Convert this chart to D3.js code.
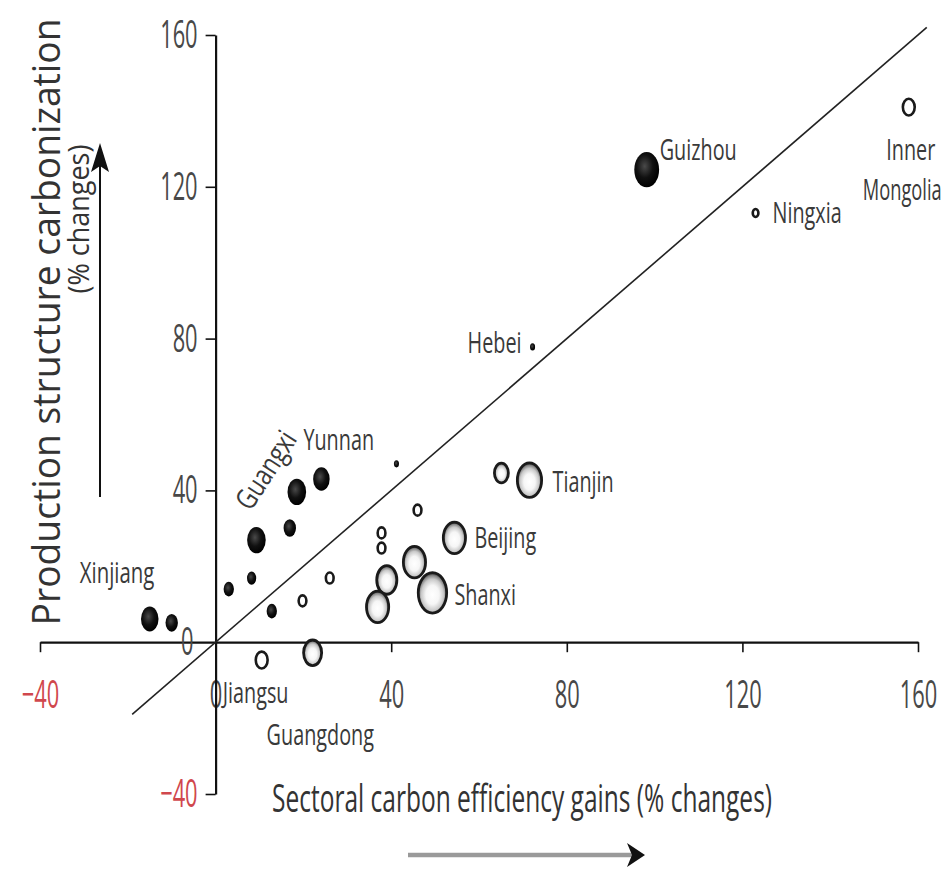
<!DOCTYPE html>
<html lang="en">
  <head>
    <meta charset="UTF-8" />
    <title>Production structure vs carbon efficiency</title>
    <script src="https://d3js.org/d3.v7.min.js"></script>
    <style>
      body { margin: 0; background: #fff; }
      svg { display: block; font-family: "Open Sans", sans-serif; }
    </style>
  </head>
  <body>
    <svg width="941" height="874"></svg>
    <script>
      // provinces: x = sectoral carbon efficiency gains, y = production structure carbonization
      const names = ["Guizhou", "Yunnan", "Guangxi", "", "", "", "", "", "Xinjiang", "", "", "Hebei",
        "Inner Mongolia", "Ningxia", "Jiangsu", "", "", "", "", "", "",
        "Tianjin", "Beijing", "", "Shanxi", "", "", "Guangdong"];
      const effGain = [98.2, 24.1, 18.5, 9.3, 16.9, 8.2, 3.0, 12.8, -15.0, -10.0, 41.2, 72.2,
        157.9, 123.0, 10.5, 19.8, 26.0, 46.0, 37.8, 37.8, 65.1,
        71.5, 54.4, 45.3, 49.4, 39.0, 36.9, 22.1];
      const carbonization = [124.5, 43.0, 39.6, 26.9, 30.1, 16.9, 14.0, 8.2, 6.1, 5.1, 47.0, 77.8,
        141.0, 113.1, -4.7, 10.9, 16.9, 34.8, 28.8, 24.8, 44.6,
        42.7, 27.5, 21.1, 13.0, 16.4, 9.3, -2.8];
      const bubbleSize = [144, 64, 81, 81, 36, 20, 25, 25, 72, 36, 6, 6,
        49, 16, 49, 25, 25, 25, 25, 25, 64,
        169, 144, 144, 225, 121, 144, 100];
      const group = ["black", "black", "black", "black", "black", "black", "black", "black", "black", "black", "black", "black",
        "ring", "ring", "ring", "ring", "ring", "ring", "ring", "ring", "sphere",
        "sphere", "sphere", "sphere", "sphere", "sphere", "sphere", "sphere"];
      const tickVals = [-40, 0, 40, 80, 120, 160];

      const points = names.map((n, i) => ({
        name: n, x: effGain[i], y: carbonization[i], s: bubbleSize[i], g: group[i]
      }));

      const svg = d3.select("svg");
      const x = d3.scaleLinear().domain([-40, 160]).range([40, 918]);
      const y = d3.scaleLinear().domain([-40, 160]).range([794, 35]);
      const r = d3.scaleSqrt().domain([0, 225]).range([0, 15.5]);
      const stretch = 1.42; // circles look taller than wide in the reference
      const ink = "#3a3a3a";
      const red = "#d0474d";

      // gradients
      const defs = svg.append("defs");
      const gb = defs.append("radialGradient").attr("id", "gBlack")
        .attr("cx", "42%").attr("cy", "40%").attr("r", "60%");
      gb.append("stop").attr("offset", "0%").attr("stop-color", "#4a4a4a");
      gb.append("stop").attr("offset", "55%").attr("stop-color", "#111");
      gb.append("stop").attr("offset", "100%").attr("stop-color", "#000");
      const gs = defs.append("radialGradient").attr("id", "gSphere")
        .attr("cx", "50%").attr("cy", "55%").attr("r", "52%");
      gs.append("stop").attr("offset", "0%").attr("stop-color", "#fff");
      gs.append("stop").attr("offset", "45%").attr("stop-color", "#f6f6f6");
      gs.append("stop").attr("offset", "75%").attr("stop-color", "#c9c9c9");
      gs.append("stop").attr("offset", "92%").attr("stop-color", "#858585");
      gs.append("stop").attr("offset", "100%").attr("stop-color", "#444");

      // helper for condensed text
      function label(g, px, py, str, o) {
        return g.append("text")
          .attr("transform", `translate(${px},${py}) rotate(${o.rot || 0}) scale(${o.sx},1)`)
          .attr("text-anchor", o.anchor || "start")
          .style("font-size", o.size + "px")
          .style("fill", o.fill || ink)
          .text(str);
      }

      // axes
      const xAxis = svg.append("g")
        .attr("transform", `translate(0,${y(0)})`)
        .call(d3.axisBottom(x).tickValues(tickVals).tickSize(10).tickSizeOuter(0).tickPadding(28)
          .tickFormat(d3.format("d")));
      const yAxis = svg.append("g")
        .attr("transform", `translate(${x(0)},0)`)
        .call(d3.axisLeft(y).tickValues(tickVals).tickSize(10).tickSizeOuter(0)
          .tickFormat(d3.format("d")));

      [xAxis, yAxis].forEach((a) => {
        a.select(".domain").attr("stroke", "#111").attr("stroke-width", 2.2);
        a.selectAll(".tick line").attr("stroke", "#111").attr("stroke-width", 1.6);
        a.selectAll("text").style("font-family", "Open Sans, sans-serif")
          .style("font-size", "39px")
          .style("fill", (d) => (d < 0 ? red : "#484848"));
      });
      const tsx = 0.56;
      xAxis.selectAll("text").attr("transform", `scale(${tsx},1)`);
      xAxis.selectAll(".tick").filter((d) => d === 0).select("line").remove();
      yAxis.selectAll("text").attr("x", -18 / tsx).attr("transform", `scale(${tsx},1)`);
      yAxis.selectAll(".tick").filter((d) => d === 0).select("line").remove();
      yAxis.selectAll(".tick").filter((d) => d === 0).select("text").attr("x", -22 / tsx);

      // 45 degree reference line
      svg.append("line")
        .attr("x1", x(-19)).attr("y1", y(-19))
        .attr("x2", x(162)).attr("y2", y(162))
        .attr("stroke", "#222").attr("stroke-width", 1.6);

      // bubbles
      svg.append("g").selectAll("ellipse")
        .data(points)
        .join("ellipse")
        .attr("cx", (d) => x(d.x))
        .attr("cy", (d) => y(d.y))
        .attr("rx", (d) => (d.g === "black" ? r(d.s) : r(d.s) - 1.3))
        .attr("ry", (d) => (d.g === "black" ? r(d.s) : r(d.s) - 1.3) * stretch)
        .attr("fill", (d) => (d.g === "black" ? "url(#gBlack)" : d.g === "sphere" ? "url(#gSphere)" : "#fff"))
        .attr("stroke", (d) => (d.g === "black" ? "none" : "#1a1a1a"))
        .attr("stroke-width", (d) => (d.g === "sphere" ? 2.8 : 2.6));

      // province labels
      const lab = svg.append("g");
      const P = (n) => points.find((p) => p.name === n);
      const ls = { size: 30, sx: 0.66 };
      const at = (n, dx, dy) => [x(P(n).x) + dx, y(P(n).y) + dy];
      label(lab, ...at("Guizhou", 13, -10), "Guizhou", ls);
      label(lab, ...at("Ningxia", 17, 10), "Ningxia", ls);
      label(lab, ...at("Inner Mongolia", 2, 53), "Inner", { ...ls, anchor: "middle" });
      label(lab, ...at("Inner Mongolia", -46, 93), "Mongolia", { ...ls, sx: 0.61 });
      label(lab, ...at("Hebei", -11, 6), "Hebei", { ...ls, anchor: "end" });
      label(lab, ...at("Yunnan", -18, -29), "Yunnan", ls);
      label(lab, ...at("Guangxi", -46, 20), "Guangxi", { ...ls, rot: -57, sx: 0.78, size: 29 });
      label(lab, ...at("Xinjiang", -70, -36), "Xinjiang", { ...ls, sx: 0.68 });
      label(lab, ...at("Tianjin", 23, 12), "Tianjin", ls);
      label(lab, ...at("Beijing", 20, 10), "Beijing", ls);
      label(lab, ...at("Shanxi", 22, 12), "Shanxi", ls);
      label(lab, ...at("Jiangsu", -39, 43), "Jiangsu", ls);
      label(lab, ...at("Guangdong", -46, 92), "Guangdong", ls);

      // axis titles
      label(svg, 60, 322, "Production structure carbonization", { size: 38, sx: 0.98, rot: -90, anchor: "middle", fill: "#333" });
      label(svg, 89, 219, "(% changes)", { size: 30, sx: 0.9, rot: -90, anchor: "middle", fill: "#333" });
      label(svg, 272, 812, "Sectoral carbon efficiency gains (% changes)", { size: 38, sx: 0.645, fill: "#333" });

      // direction arrows
      svg.append("line").attr("x1", 100).attr("y1", 497).attr("x2", 100).attr("y2", 162)
        .attr("stroke", "#111").attr("stroke-width", 2);
      svg.append("path").attr("d", "M100,143 L109,172 L100,166 L91,172 Z").attr("fill", "#111");
      svg.append("line").attr("x1", 408).attr("y1", 855).attr("x2", 632).attr("y2", 855)
        .attr("stroke", "#9a9a9a").attr("stroke-width", 4.5);
      svg.append("path").attr("d", "M645,855 L627,843 L632,855 L627,867 Z").attr("fill", "#111");
    </script>
  </body>
</html>
